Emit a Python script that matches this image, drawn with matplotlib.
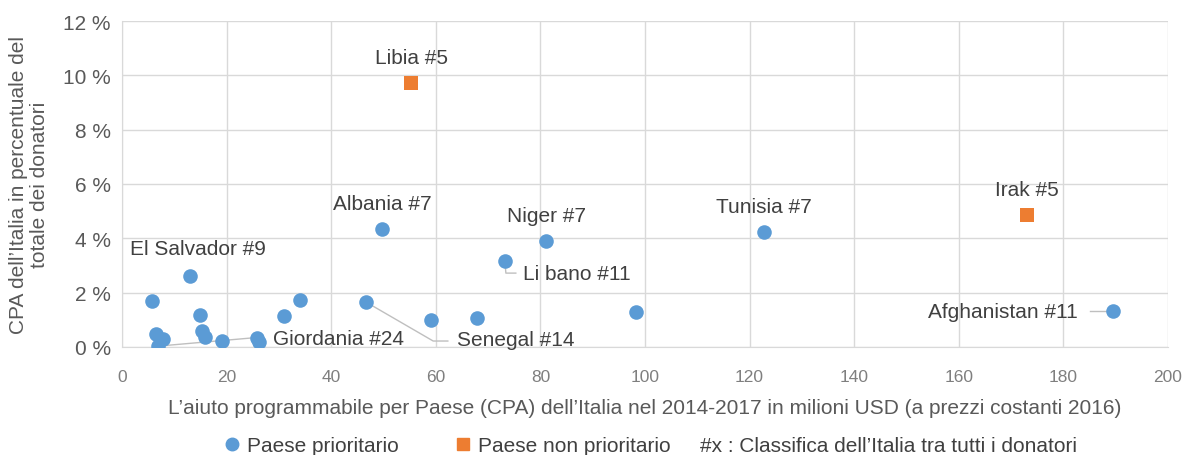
import matplotlib
matplotlib.use("Agg")
import matplotlib.pyplot as plt
from matplotlib.lines import Line2D
from matplotlib.ticker import FuncFormatter

plt.rcParams['font.family'] = ['Liberation Sans', 'DejaVu Sans']

# Priority countries (CPA in million USD, share in %)
prio_x = [5.7, 13.0, 14.9, 15.3, 15.9, 6.5, 7.8, 6.8, 19.1, 25.8, 26.2, 31.0, 34.0,
          46.6, 49.7, 59.1, 67.9, 73.2, 81.1, 98.3, 122.8, 189.5]
prio_y = [1.69, 2.61, 1.18, 0.59, 0.37, 0.48, 0.29, 0.03, 0.22, 0.33, 0.18, 1.14, 1.73,
          1.66, 4.34, 0.99, 1.07, 3.17, 3.90, 1.29, 4.23, 1.32]
# Non-priority countries
nonprio_x = [55.3, 173.0]
nonprio_y = [9.72, 4.86]

labels_direct = [("Libia #5", 55.3, 9.72), ("Irak #5", 173.0, 4.86),
                 ("Tunisia #7", 122.8, 4.23), ("Niger #7", 81.1, 3.90),
                 ("Albania #7", 49.7, 4.34)]

blue = "#5B9BD5"
orange = "#ED7D31"
txt = "#404040"
tick_c = "#595959"
grid_c = "#D9D9D9"

fs = 15

fig = plt.figure(figsize=(11.87, 4.56), dpi=100)
ax = fig.add_axes([122/1187, (456-348)/456, (1168-122)/1187, (348-22)/456])

ax.scatter(prio_x, prio_y, s=110, color=blue, marker='o', zorder=3, linewidths=0)
ax.scatter(nonprio_x, nonprio_y, s=100, color=orange, marker='s', zorder=3, linewidths=0)

ax.set_xlim(0, 200)
ax.set_ylim(0, 12)
ax.set_xticks(range(0, 201, 20))
ax.set_yticks(range(0, 13, 2))
ax.yaxis.set_major_formatter(FuncFormatter(lambda v, p: f"{int(v)} %"))
ax.grid(True, color=grid_c, linewidth=1)
ax.set_axisbelow(True)
for s in ['top', 'right']:
    ax.spines[s].set_visible(False)
for s in ['left', 'bottom']:
    ax.spines[s].set_color(grid_c)
ax.tick_params(axis='y', length=0, labelsize=fs, colors=tick_c, pad=8)
ax.tick_params(axis='x', length=0, labelsize=12.5, colors="#7F7F7F", pad=16)

ax.set_xlabel("L\u2019aiuto programmabile per Paese (CPA) dell\u2019Italia nel 2014-2017 in milioni USD (a prezzi costanti 2016)",
              fontsize=fs, color=tick_c, labelpad=10)
ax.set_ylabel("CPA dell\u2019Italia in percentuale del\ntotale dei donatori",
              fontsize=fs, color=tick_c, labelpad=10, linespacing=1.15)

for name, x, y in labels_direct:
    ax.annotate(name, (x, y), xytext=(0, 18.5), textcoords='offset points',
                ha='center', va='center', fontsize=fs, color=txt)

ax.text(14.5, 3.61, "El Salvador #9", ha='center', va='center', fontsize=fs, color=txt)

lc = "#BFBFBF"
# Libano
ax.plot([73.2, 73.4, 75.3], [3.17, 2.72, 2.72], color=lc, lw=1, zorder=2)
ax.text(76.7, 2.69, "Li bano #11", ha='left', va='center', fontsize=fs, color=txt)
# Senegal
ax.plot([46.6, 59.5, 62.3], [1.66, 0.22, 0.22], color=lc, lw=1, zorder=2)
ax.text(64.1, 0.29, "Senegal #14", ha='left', va='center', fontsize=fs, color=txt)
# Giordania
ax.plot([6.8, 27.0], [0.03, 0.37], color=lc, lw=1, zorder=2)
ax.text(28.9, 0.33, "Giordania #24", ha='left', va='center', fontsize=fs, color=txt)
# Afghanistan
ax.plot([185.0, 188.5], [1.32, 1.32], color=lc, lw=1, zorder=2)
ax.text(182.8, 1.32, "Afghanistan #11", ha='right', va='center', fontsize=fs, color=txt)

handles = [Line2D([], [], marker='o', linestyle='none', color=blue, markersize=9),
           Line2D([], [], marker='s', linestyle='none', color=orange, markersize=8)]
fig.legend(handles, ["Paese prioritario", "Paese non prioritario"], ncol=2,
           loc='center left', bbox_to_anchor=(222/1187, 1 - 447/456), frameon=False,
           fontsize=fs, labelcolor=txt, handletextpad=0.2, columnspacing=2.6,
           handlelength=1.0, borderpad=0, borderaxespad=0)
fig.text(700/1187, 1 - 447/456, "#x : Classifica dell\u2019Italia tra tutti i donatori",
         ha='left', va='center', fontsize=fs, color=txt)

fig.savefig("out.png", dpi=100)
